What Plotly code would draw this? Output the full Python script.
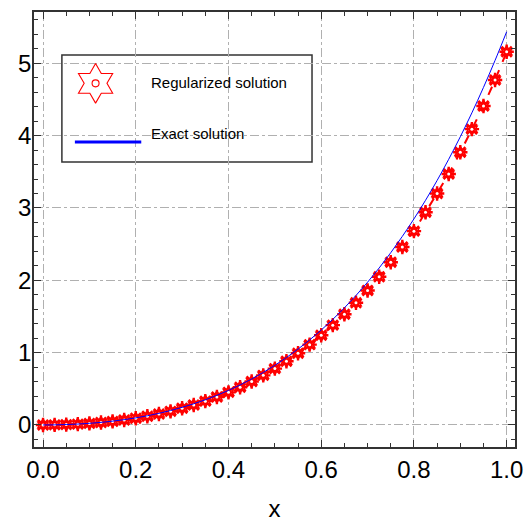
import plotly.graph_objects as go

x_vals = [0.0, 0.025, 0.05, 0.075, 0.1, 0.125, 0.15, 0.175, 0.2, 0.225, 0.25, 0.275, 0.3,
          0.325, 0.35, 0.375, 0.4, 0.425, 0.45, 0.475, 0.5, 0.525, 0.55, 0.575, 0.6, 0.625,
          0.65, 0.675, 0.7, 0.725, 0.75, 0.775, 0.8, 0.825, 0.85, 0.875, 0.9, 0.925, 0.95,
          0.975, 1.0]
exact_vals = [0.0, 0.0013, 0.0053, 0.0121, 0.0221, 0.0354, 0.0523, 0.0730, 0.0977, 0.1268,
              0.1605, 0.1991, 0.2430, 0.2924, 0.3477, 0.4092, 0.4774, 0.5526, 0.6352, 0.7256,
              0.8244, 0.9319, 1.0486, 1.1751, 1.3119, 1.4596, 1.6186, 1.7897, 1.9735, 2.1706,
              2.3816, 2.6074, 2.8487, 3.1062, 3.3808, 3.6733, 3.9845, 4.3155, 4.6672, 5.0405,
              5.4366]
reg_vals = [0.0, 0.001, 0.005, 0.011, 0.021, 0.033, 0.049, 0.069, 0.092, 0.12, 0.152, 0.188,
            0.23, 0.276, 0.329, 0.387, 0.451, 0.522, 0.6, 0.686, 0.779, 0.881, 0.991, 1.11,
            1.24, 1.38, 1.53, 1.69, 1.86, 2.05, 2.25, 2.46, 2.68, 2.94, 3.2, 3.47, 3.77, 4.09,
            4.41, 4.77, 5.16]
x_ticks = [0.0, 0.2, 0.4, 0.6, 0.8, 1.0]
x_ticklabels = ["0.0", "0.2", "0.4", "0.6", "0.8", "1.0"]
y_ticks = [0, 1, 2, 3, 4, 5]
y_ticklabels = ["0", "1", "2", "3", "4", "5"]
legend_labels = ["Regularized solution", "Exact solution"]

FONT = "Liberation Sans, Arial, sans-serif"
RED = "#ff0000"
BLUE = "#0000ff"
FRAME = "#333333"
GRID = "#b0b0b0"

fig = go.Figure()

# red dashed line
fig.add_trace(go.Scatter(x=x_vals, y=reg_vals, mode="lines",
                         line=dict(color=RED, width=2, dash="dash"),
                         showlegend=False, hoverinfo="skip"))
# markers (star bursts with a white centre)
fig.add_trace(go.Scatter(x=x_vals, y=reg_vals, mode="markers",
                         marker=dict(symbol="asterisk-open", size=12, color=RED,
                                     line=dict(color=RED, width=2.4)),
                         showlegend=False))
fig.add_trace(go.Scatter(x=x_vals, y=reg_vals, mode="markers",
                         marker=dict(symbol="hexagram-open", size=9, color=RED,
                                     line=dict(color=RED, width=1.6)),
                         showlegend=False, hoverinfo="skip"))
fig.add_trace(go.Scatter(x=x_vals, y=reg_vals, mode="markers",
                         marker=dict(symbol="circle", size=3, color="white",
                                     line=dict(width=0)),
                         showlegend=False, hoverinfo="skip"))
# exact solution
fig.add_trace(go.Scatter(x=x_vals, y=exact_vals, mode="lines", line_shape="spline",
                         line=dict(color=BLUE, width=1),
                         showlegend=False))

# manual legend marker on overlay axes (paper-like coordinates)
fig.add_trace(go.Scatter(x=[0.128], y=[0.836], xaxis="x2", yaxis="y2", mode="markers",
                         marker=dict(symbol="hexagram-open", size=30, color=RED,
                                     line=dict(color=RED, width=1.1)),
                         showlegend=False, hoverinfo="skip"))
fig.add_trace(go.Scatter(x=[0.128], y=[0.836], xaxis="x2", yaxis="y2", mode="markers",
                         marker=dict(symbol="circle-open", size=7, color=RED,
                                     line=dict(color=RED, width=1.1)),
                         showlegend=False, hoverinfo="skip"))

shapes = [
    dict(type="rect", xref="paper", yref="paper", x0=0.058, x1=0.578, y0=0.655, y1=0.901,
         line=dict(color=FRAME, width=1.5), fillcolor="white", layer="between"),
    dict(type="line", xref="paper", yref="paper", x0=0.085, x1=0.223, y0=0.701, y1=0.701,
         line=dict(color=BLUE, width=3), layer="above"),
]
annotations = [
    dict(text=legend_labels[0], xref="paper", yref="paper", x=0.24, y=0.838,
         xanchor="left", yanchor="middle", showarrow=False,
         font=dict(family=FONT, size=15, color="black")),
    dict(text=legend_labels[1], xref="paper", yref="paper", x=0.24, y=0.72,
         xanchor="left", yanchor="middle", showarrow=False,
         font=dict(family=FONT, size=15, color="black")),
]

axis_common = dict(showline=True, linecolor=FRAME, linewidth=1.5, mirror="ticks",
                   ticks="inside", ticklen=7, tickwidth=1, tickcolor=FRAME,
                   showgrid=True, gridcolor=GRID, griddash="dashdot", gridwidth=1,
                   zeroline=False, automargin=False,
                   tickfont=dict(family=FONT, size=24, color="black"))

fig.update_layout(
    width=526, height=522,
    margin=dict(l=34, r=11, t=12, b=75),
    paper_bgcolor="white", plot_bgcolor="white",
    showlegend=False,
    font=dict(family=FONT, color="black"),
    xaxis=dict(range=[-0.0195, 1.018], tickvals=x_ticks, ticktext=x_ticklabels,
               minor=dict(dtick=0.05, tick0=0, ticks="inside", ticklen=4, tickcolor=FRAME,
                          showgrid=False),
               title=dict(text="x", font=dict(family=FONT, size=24, color="black"), standoff=22),
               **axis_common),
    yaxis=dict(range=[-0.305, 5.71], tickvals=y_ticks, ticktext=y_ticklabels,
               ticklabelstandoff=-4,
               minor=dict(dtick=0.2, tick0=0, ticks="inside", ticklen=4, tickcolor=FRAME,
                          showgrid=False),
               **axis_common),
    xaxis2=dict(overlaying="x", range=[0, 1], visible=False, fixedrange=True),
    yaxis2=dict(overlaying="y", range=[0, 1], visible=False, fixedrange=True),
    shapes=shapes,
    annotations=annotations,
)

fig.write_html("out.html", config={"displayModeBar": False},
               post_script="document.body.style.margin='0';document.body.style.overflow='hidden';")
